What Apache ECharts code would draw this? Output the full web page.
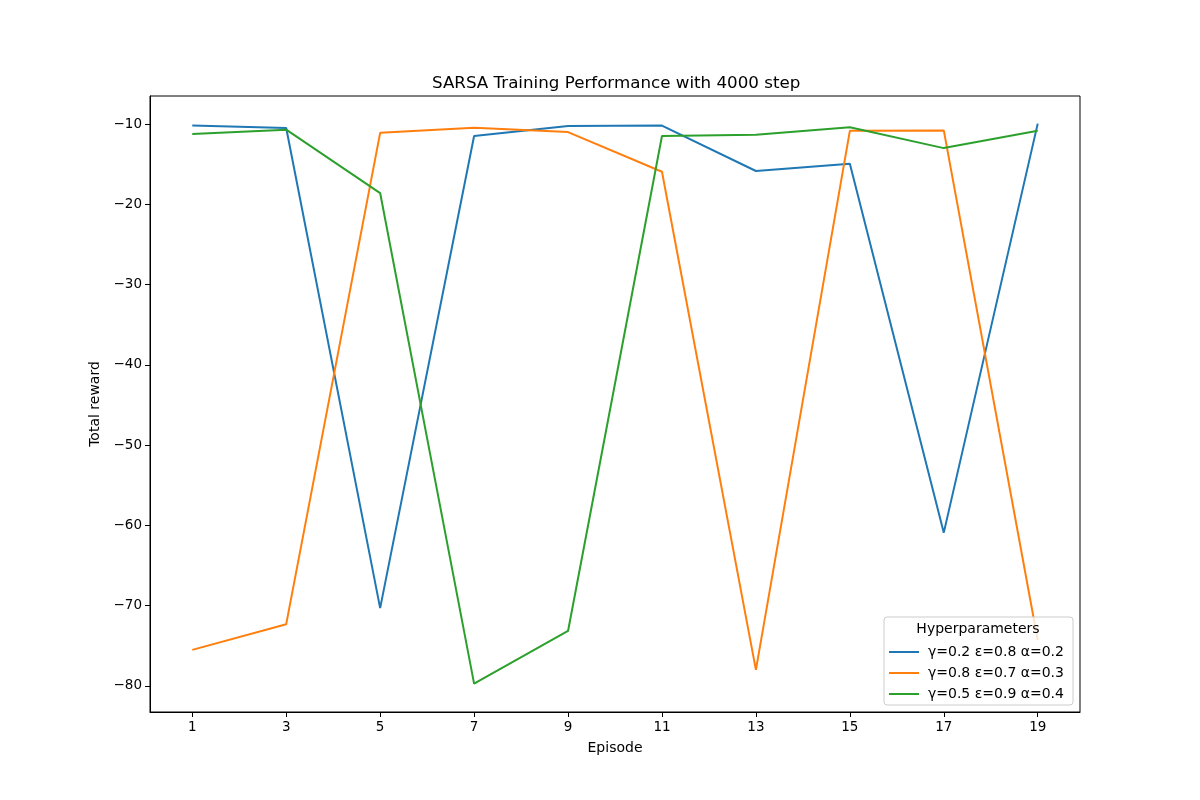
<!DOCTYPE html>
<html>
<head>
<meta charset="utf-8">
<script src="https://cdn.jsdelivr.net/npm/echarts@6/dist/echarts.min.js"></script>
<style>html,body{margin:0;padding:0;background:#fff}#c{width:1200px;height:800px}</style>
</head>
<body>
<div id="c"></div>
<script>
const episodes = [1, 3, 5, 7, 9, 11, 13, 15, 17, 19];
const seriesNames = ['γ=0.2 ε=0.8 α=0.2', 'γ=0.8 ε=0.7 α=0.3', 'γ=0.5 ε=0.9 α=0.4'];
const blueValues = [-10.2, -10.5, -70.3, -11.5, -10.25, -10.2, -15.85, -14.95, -60.9, -9.95];
const orangeValues = [-75.5, -72.3, -11.1, -10.45, -11.0, -15.95, -78.0, -10.85, -10.8, -74.3];
const greenValues = [-11.25, -10.7, -18.6, -79.7, -73.15, -11.5, -11.35, -10.4, -13.0, -10.85];
const yTicks = [-80, -70, -60, -50, -40, -30, -20, -10];
const colors = ['#1f77b4', '#ff7f0e', '#2ca02c'];
const allValues = [blueValues, orangeValues, greenValues];

const font = 'DejaVu Sans';
const chart = echarts.init(document.getElementById('c'));
const series = allValues.map((vals, i) => ({
  name: seriesNames[i],
  type: 'line',
  data: episodes.map((e, j) => [e, vals[j]]),
  showSymbol: false,
  symbol: 'none',
  lineStyle: { color: colors[i], width: 2 },
  itemStyle: { color: colors[i] },
  emphasis: { disabled: true },
  z: 2
}));

chart.setOption({
  animation: false,
  backgroundColor: '#fff',
  textStyle: { fontFamily: font },
  title: {
    text: 'SARSA Training Performance with 4000 step',
    left: 427, top: 70,
    textStyle: { fontFamily: font, fontSize: 16.7, fontWeight: 'normal', color: '#000' }
  },
  grid: { left: 150, right: 120, top: 96, bottom: 88, show: true, borderColor: '#000', borderWidth: 1, backgroundColor: 'transparent' },
  xAxis: {
    type: 'value', min: 0.1, max: 19.9,
    name: 'Episode', nameLocation: 'middle', nameGap: 29,
    nameTextStyle: { fontFamily: font, fontSize: 14, color: '#000' },
    axisLine: { show: true, lineStyle: { color: '#000', width: 1 } },
    axisTick: { show: true, inside: false, length: 5, lineStyle: { color: '#000' }, customValues: episodes },
    axisLabel: { show: true, fontFamily: font, fontSize: 13.5, color: '#000', margin: 8, customValues: episodes },
    splitLine: { show: false }
  },
  yAxis: {
    type: 'value', min: -83.24, max: -6.51,
    name: 'Total reward', nameLocation: 'middle', nameGap: 43, nameRotate: 90,
    nameTextStyle: { fontFamily: font, fontSize: 14, color: '#000' },
    axisLine: { show: true, lineStyle: { color: '#000', width: 1 } },
    axisTick: { show: true, inside: false, length: 5, lineStyle: { color: '#000' }, customValues: yTicks },
    axisLabel: { show: true, fontFamily: font, fontSize: 13.5, color: '#000', margin: 8, customValues: yTicks,
      formatter: v => (v < 0 ? '\u2212' + Math.abs(v) : '' + v) },
    splitLine: { show: false }
  },
  legend: {
    orient: 'vertical', left: 889, top: 644,
    itemWidth: 30, itemHeight: 2, itemGap: 5,
    icon: 'rect',
    data: seriesNames,
    textStyle: { fontFamily: font, fontSize: 14, color: '#000', lineHeight: 16, padding: [0, 0, 0, 4] },
    padding: 0,
    selectedMode: false,
    z: 20
  },
  graphic: [
    { type: 'rect', z: 10, shape: { x: 884, y: 617, width: 189, height: 88, r: 3 },
      style: { fill: 'rgba(255,255,255,0.8)', stroke: '#cccccc', lineWidth: 1 } },
    { type: 'text', z: 11, x: 978, y: 629, style: { text: 'Hyperparameters', fontFamily: font, fontSize: 14, fill: '#000', align: 'center', verticalAlign: 'middle' } }
  ],
  series: series
});
</script>
</body>
</html>
